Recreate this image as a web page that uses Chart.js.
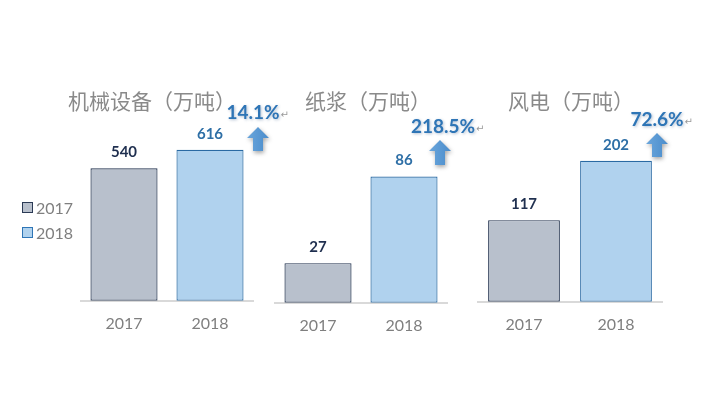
<!DOCTYPE html>
<html>
<head>
<meta charset="utf-8">
<script src="https://cdn.jsdelivr.net/npm/chart.js@4.4.1/dist/chart.umd.min.js"></script>
<style>
  body { margin: 0; background: #fff; }
  #wrap { position: relative; width: 709px; height: 399px; overflow: hidden; background: #fff; }
  #wrap canvas { position: absolute; left: 0; top: 0; }
  .title { position: absolute; font-family: "Noto Sans CJK SC", sans-serif; font-size: 21px; line-height: 24px; color: #8a8a8a; white-space: nowrap; }
  .legend { position: absolute; left: 22px; font-family: "Lato", sans-serif; font-size: 16px; line-height: 18px; color: #7f7f7f; }
  .legend span { display: inline-block; width: 9px; height: 9px; margin-right: 3px; vertical-align: 1px; }
</style>
</head>
<body>
<div id="wrap">
  <canvas id="c0" width="709" height="399"></canvas>
  <canvas id="c1" width="709" height="399"></canvas>
  <canvas id="c2" width="709" height="399"></canvas>
  <div class="title" style="left:68px;top:88px">机械设备（万吨）</div>
  <div class="title" style="left:305px;top:88px">纸浆（万吨）</div>
  <div class="title" style="left:508px;top:88px">风电（万吨）</div>
  <div class="legend" style="top:199px"><span style="background:#b8c0cc;border:1px solid #2b3a55"></span>2017</div>
  <div class="legend" style="top:224px"><span style="background:#b0d2ee;border:1px solid #2e75b6"></span>2018</div>
</div>
<script>
const categories = ['2017', '2018'];
const panelNames = ['机械设备（万吨）', '纸浆（万吨）', '风电（万吨）'];
const values2017 = [540, 27, 117];
const values2018 = [616, 86, 202];
const growthLabels = ['14.1%', '218.5%', '72.6%'];

// where each panel sits on the page (chart area edges) and its y range
const panelLayout = [
    { left: 81, right: 253, bottom: 53, yMax: 986 },
    { left: 275, right: 447, bottom: 51, yMax: 166 },
    { left: 478, right: 662, bottom: 52, yMax: 348 }
];
// arrow + growth text spots
const arrowSpots = [
    { x: 258, top: 127, bottom: 151, tx: 253, ty: 113 },
    { x: 440, top: 140, bottom: 165, tx: 443, ty: 127 },
    { x: 657, top: 133, bottom: 157, tx: 657, ty: 120 }
];

const fillColors = ['#b8c0cc', '#b0d2ee'];
const edgeColors = ['#243450', '#2a6aa3'];
const labelColors = ['#1f2f4f', '#2e6fa6'];

const valueLabels = {
    id: 'valueLabels',
    afterDatasetsDraw(chart) {
        const ctx = chart.ctx;
        const meta = chart.getDatasetMeta(0);
        ctx.save();
        ctx.font = 'bold 15px Lato, sans-serif';
        ctx.textAlign = 'center';
        ctx.textBaseline = 'middle';
        meta.data.forEach((bar, i) => {
            ctx.fillStyle = labelColors[i];
            ctx.fillText(chart.data.datasets[0].data[i], bar.x, bar.y - 16);
        });
        ctx.restore();
    }
};

const growthArrow = {
    id: 'growthArrow',
    afterDraw(chart, args, opts) {
        const ctx = chart.ctx;
        const s = arrowSpots[opts.panel];
        const w = 22, shaft = 10, head = 11;
        ctx.save();
        ctx.shadowColor = 'rgba(0,0,0,0.35)';
        ctx.shadowBlur = 4;
        ctx.shadowOffsetX = 1;
        ctx.shadowOffsetY = 2;
        const g = ctx.createLinearGradient(s.x - w / 2, 0, s.x + w / 2, 0);
        g.addColorStop(0, '#6aa6dc');
        g.addColorStop(1, '#4a8ccb');
        ctx.fillStyle = g;
        ctx.beginPath();
        ctx.moveTo(s.x, s.top);
        ctx.lineTo(s.x + w / 2, s.top + head);
        ctx.lineTo(s.x + shaft / 2, s.top + head);
        ctx.lineTo(s.x + shaft / 2, s.bottom);
        ctx.lineTo(s.x - shaft / 2, s.bottom);
        ctx.lineTo(s.x - shaft / 2, s.top + head);
        ctx.lineTo(s.x - w / 2, s.top + head);
        ctx.closePath();
        ctx.fill();

        ctx.shadowColor = 'rgba(80,110,150,0.45)';
        ctx.shadowBlur = 3;
        ctx.shadowOffsetX = 1;
        ctx.shadowOffsetY = 1;
        ctx.font = 'bold 19px Lato, sans-serif';
        ctx.textAlign = 'center';
        ctx.textBaseline = 'middle';
        ctx.fillStyle = '#2e75b6';
        const txt = growthLabels[opts.panel];
        ctx.fillText(txt, s.tx, s.ty);
        const tw = ctx.measureText(txt).width;
        ctx.shadowColor = 'transparent';
        ctx.font = '10px "DejaVu Sans", sans-serif';
        ctx.fillStyle = '#9a9a9a';
        ctx.textAlign = 'left';
        ctx.fillText('↵', s.tx + tw / 2 + 1, s.ty + 2);
        ctx.restore();
    }
};

function renderPanel(i) {
    const p = panelLayout[i];
    new Chart(document.getElementById('c' + i), {
        type: 'bar',
        data: {
            labels: categories,
            datasets: [{
                label: panelNames[i],
                data: [values2017[i], values2018[i]],
                backgroundColor: fillColors,
                borderColor: edgeColors,
                borderWidth: 1.2,
                borderSkipped: false,
                barPercentage: 0.78,
                categoryPercentage: 1
            }]
        },
        options: {
            responsive: false,
            animation: false,
            layout: { padding: { left: p.left, right: 709 - p.right, top: 59, bottom: p.bottom } },
            plugins: {
                legend: { display: false },
                tooltip: { enabled: false },
                growthArrow: { panel: i }
            },
            scales: {
                x: {
                    grid: { display: false, drawTicks: false },
                    border: { display: true, color: '#d9d9d9', width: 2 },
                    ticks: { color: '#7f7f7f', padding: 13, font: { family: 'Lato', size: 16 } }
                },
                y: { display: false, min: 0, max: p.yMax }
            }
        },
        plugins: [valueLabels, growthArrow]
    });
}

window.onload = () => { [0, 1, 2].forEach(renderPanel); };
</script>
</body>
</html>
